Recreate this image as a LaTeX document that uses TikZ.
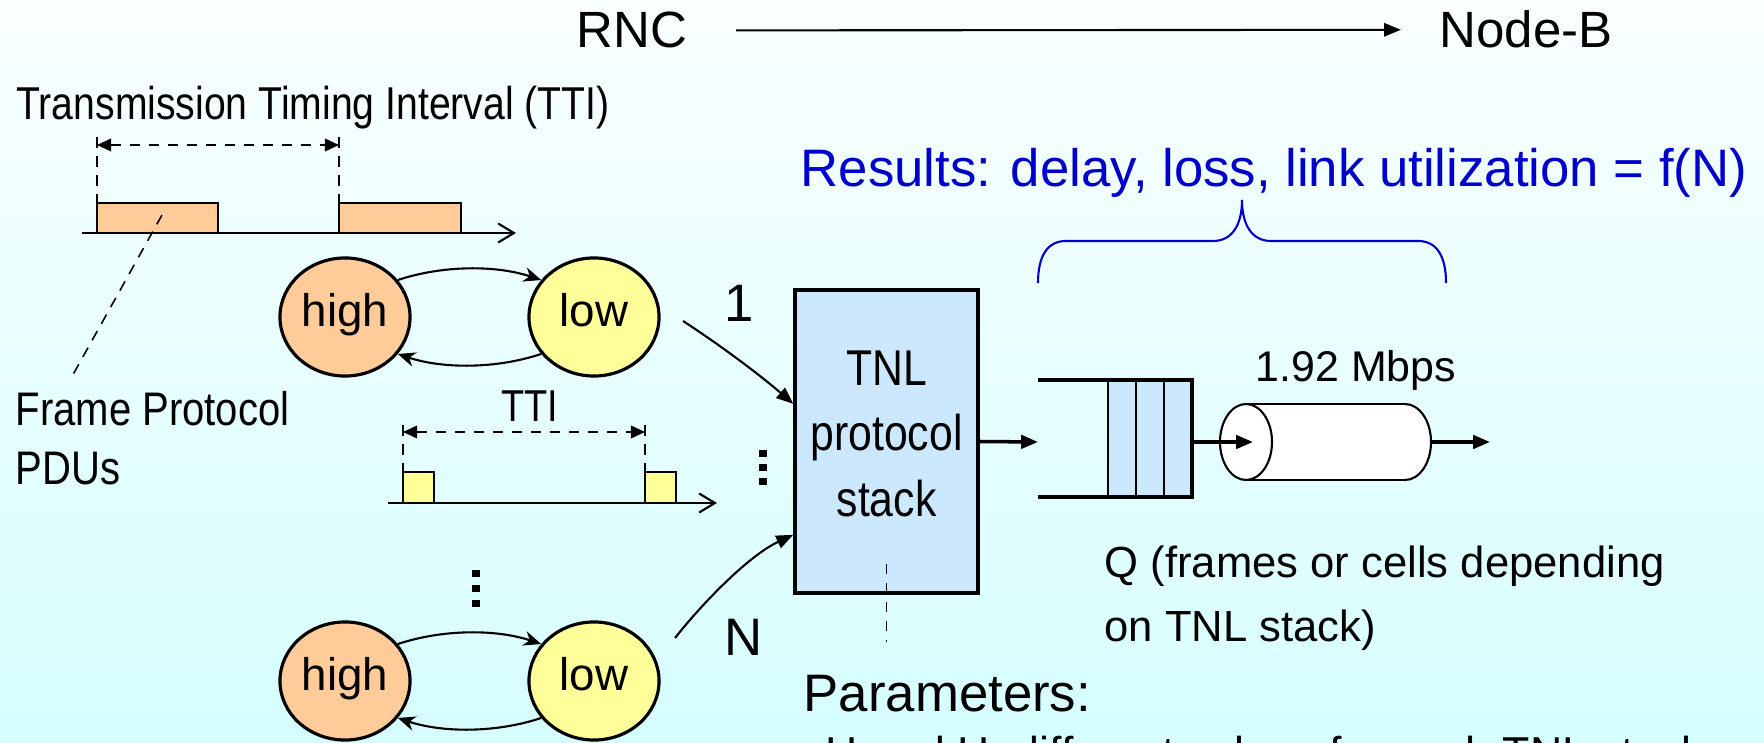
\documentclass[tikz,border=0pt]{standalone}
\usepackage{fontspec}
\setmainfont{Liberation Sans}
\newfontfamily\narrowfont[FakeStretch=0.85]{Liberation Sans}
\usetikzlibrary{positioning,arrows.meta,shapes.geometric}

\definecolor{bgtop}{RGB}{250,255,255}
\definecolor{bgbot}{RGB}{214,254,255}
\definecolor{hicol}{RGB}{255,204,153}
\definecolor{locol}{RGB}{255,255,153}
\definecolor{stackcol}{RGB}{204,232,255}
\definecolor{rescol}{RGB}{0,0,204}

\begin{document}
\begin{tikzpicture}[
  x=0.01cm, y=-0.01cm,
  >={Triangle[length=4.8pt,width=3.8pt]},
  txt/.style={inner sep=0pt,anchor=base},
  state/.style={draw,ellipse,line width=0.9pt,minimum width=1.3cm,minimum height=1.18cm,
    inner sep=0pt,text height=0.73em,text depth=0.21em,font=\fontsize{13}{15}\selectfont},
  toggle/.style={->,line width=0.6pt,>={Stealth[length=5pt,width=4.2pt,inset=1.6pt]}},
  feed/.style={->,line width=0.6pt},
  thickarr/.style={->,line width=1pt},
  ptr/.style={line width=0.45pt,dash pattern=on 3pt off 2.4pt},
  span/.style={<->,line width=0.5pt,dash pattern=on 3pt off 2.4pt,>={Triangle[length=4pt,width=3.6pt]}},
  timeaxis/.style={-{Straight Barb[length=4.5pt,width=5.4pt]},line width=0.6pt},
  pdu/.style={draw,line width=0.5pt}]

% --- page: light cyan gradient, fixed size ---
\useasboundingbox (0,0) rectangle (1764,743);
\shade[top color=bgtop,bottom color=bgbot] (0,0) rectangle (1764,743);
\clip (0,0) rectangle (1764,743);

% --- direction RNC -> Node-B ---
\node[txt,font=\fontsize{14.5}{17}\selectfont] (rnc) at (632,48) {RNC};
\node[txt,font=\fontsize{14.5}{17}\selectfont] (nodeb) at (1526,48) {Node-B};
\draw[->,line width=0.6pt,shorten <=13.7pt,shorten >=10.8pt] (rnc.east) -- (nodeb.west);

% --- TTI of the high state: two large PDUs ---
\node[txt,font=\fontsize{13.1}{15}\narrowfont] (ttilong) at (313,120) {Transmission Timing Interval (TTI)};
\draw[pdu,fill=hicol] (97,203) rectangle (218,233);
\draw[pdu,fill=hicol] (339,203) rectangle (461,233);
\draw[timeaxis] (82,233) -- (516,233);
\draw[ptr] (97,137) -- (97,203);
\draw[ptr] (339,137) -- (339,203);
\draw[span] (97,145) -- (339,145);

% pointer to the PDU label (base = last line)
\draw[ptr] (162,215) -- (70,380);
\node[txt,anchor=base west,align=left,font=\fontsize{13.4}{16.5}\narrowfont] (fpdu) at (15,484) {Frame Protocol\\PDUs};

% --- first on/off source ---
\node[state,fill=hicol] (hi1) at (345,317) {high};
\node[state,fill=locol] (lo1) at (594,317) {low};
\draw[toggle] (hi1.35) .. controls +(45,-15) and +(-45,-15) .. (lo1.145);
\draw[toggle] (lo1.215) .. controls +(-45,15) and +(45,15) .. (hi1.325);

% --- TTI of the low state: two small PDUs ---
\node[txt,font=\fontsize{12.7}{15}\narrowfont] (ttishort) at (530,422) {TTI};
\draw[pdu,fill=locol] (403,472) rectangle (434,503);
\draw[pdu,fill=locol] (645,472) rectangle (676,503);
\draw[timeaxis] (388,503) -- (717,503);
\draw[ptr] (403,425) -- (403,472);
\draw[ptr] (645,425) -- (645,472);
\draw[span] (403,432) -- (645,432);

% vertical ellipses (square dots)
\foreach \y in {450,464,478} \fill (759,\y) rectangle +(8,7);
\foreach \y in {570,585,600} \fill (472,\y) rectangle +(8,7);

% --- N-th on/off source ---
\node[state,fill=hicol] (hi2) at (345,681) {high};
\node[state,fill=locol] (lo2) at (594,681) {low};
\draw[toggle] (hi2.35) .. controls +(45,-15) and +(-45,-15) .. (lo2.145);
\draw[toggle] (lo2.215) .. controls +(-45,15) and +(45,15) .. (hi2.325);

% --- TNL protocol stack ---
\node[draw,line width=1pt,fill=stackcol,minimum width=1.83cm,minimum height=3.03cm,
  inner sep=0pt] (tnl) at (886.5,441.5) {};
\node[txt,align=center,font=\fontsize{14.3}{18.5}\narrowfont] (tnltext) at (886.5,516)
  {TNL\\protocol\\stack};

\node[txt,font=\fontsize{15}{18}\selectfont] (one) at (739,322) {1};
\node[txt,font=\fontsize{15}{18}\selectfont] (nn) at (744,655) {N};
\coordinate (src1) at (683,321);
\coordinate (srcN) at (675,638);
\draw[feed] (src1) .. controls (720,345) and (760,375) .. (tnl.158);
\draw[feed] (srcN) .. controls (705,600) and (750,555) .. (tnl.225);

% --- queue Q ---
\coordinate (qin) at (1038,442);
\draw[thickarr] (tnl.east) -- (qin);
\foreach \x in {1108,1136,1164} \draw[fill=stackcol,line width=0.5pt] (\x,380) rectangle +(28,117);
\draw[line width=1pt] (1038,380) -- (1192,380) -- (1192,497) -- (1038,497);

% --- link 1.92 Mbps (cylinder) ---
\draw[line width=0.6pt,fill=white] (1405,442) ellipse [x radius=26,y radius=38];
\fill[white] (1246,404) rectangle (1405,480);
\draw[line width=0.6pt] (1246,404) -- (1405,404) (1246,480) -- (1405,480);
\draw[line width=0.6pt,fill=white] (1246,442) ellipse [x radius=26,y radius=38];
\coordinate (qout) at (1192,442);
\coordinate (cylin) at (1253,442);
\coordinate (cylout) at (1431,442);
\coordinate (linkend) at (1490,442);
\draw[thickarr] (qout) -- (cylin);
\draw[thickarr] (cylout) -- (linkend);
\node[txt,font=\fontsize{12.2}{14}\selectfont] (rate) at (1356,382) {1.92 Mbps};

% --- results brace ---
\draw[rescol,line width=0.6pt] (1038,283) .. controls (1038,255) and (1048,241) .. (1066,241)
  -- (1213,241) .. controls (1232,241) and (1242,225) .. (1242,200)
  .. controls (1242,225) and (1252,241) .. (1271,241)
  -- (1418,241) .. controls (1436,241) and (1446,255) .. (1446,283);
\node[txt,text=rescol,font=\fontsize{15}{18}\selectfont] (res) at (1274,187)
  {Results: delay, loss, link utilization = f(N)};

\node[txt,anchor=base west,align=left,font=\fontsize{12.4}{18}\selectfont] (qtxt) at (1104,641)
  {Q (frames or cells depending\\on TNL stack)};

% --- parameters ---
\draw[ptr] ([yshift=8.8pt]tnl.south) -- ++(0,78);
\node[txt,anchor=base west,font=\fontsize{15}{18}\selectfont] (par) at (803,711) {Parameters:};
\node[txt,anchor=base west,font=\fontsize{12.7}{15}\selectfont] (parline) at (798,768)
  {- H and H: different values for each TNL stack};

\end{tikzpicture}
\end{document}
